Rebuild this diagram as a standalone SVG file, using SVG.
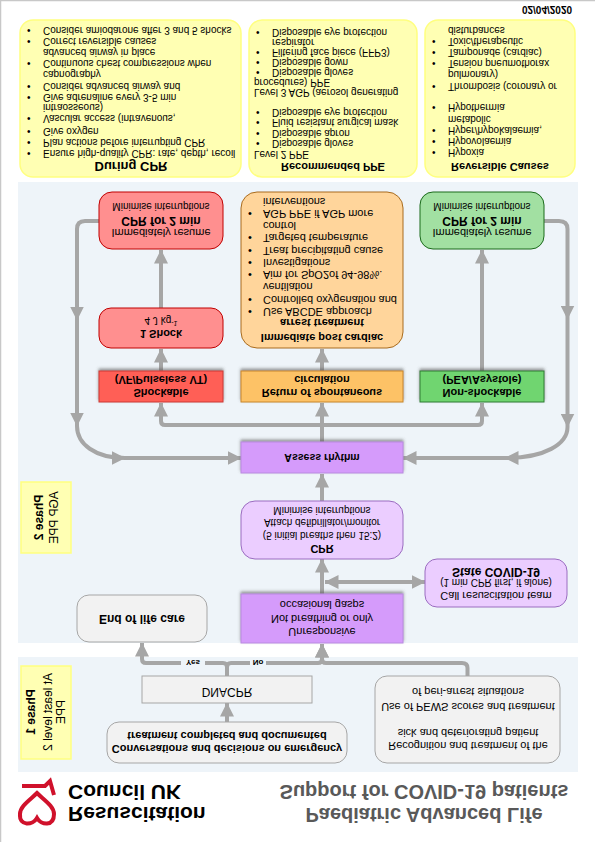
<svg xmlns="http://www.w3.org/2000/svg" width="595" height="842" viewBox="0 0 595 842">
<style>
text{font-family:"Liberation Sans",Arial,sans-serif;font-size:10px;fill:#000}
.c{text-anchor:middle}
.b{font-weight:bold}
.s11{font-size:11px}
.s12{font-size:12px}
.s13{font-size:13px}
.panel{fill:#eef4f9}
.note{fill:#ffffb3;stroke:#ffff80;stroke-width:1.5}
.gray{fill:#f2f2f2;stroke:#a6a6a6}
.pur{fill:#d59bfb;stroke:#b98ae0;filter:url(#sh)}
.lil{fill:#ebcdff;stroke:#9a6cc0}
.red{fill:#ff8f8f;stroke:#c00000}
.lines path{fill:none;stroke:#a6a6a6;stroke-width:4;marker-end:url(#ah)}
</style>
<defs>
<marker id="ah" markerUnits="userSpaceOnUse" viewBox="0 0 14 14" refX="13.5" refY="7" markerWidth="14" markerHeight="14" orient="auto-start-reverse"><path d="M0 0L14 7L0 14Z" fill="#a6a6a6"/></marker>
<filter id="sh" x="-10%" y="-30%" width="120%" height="170%"><feDropShadow dx="0" dy="2" stdDeviation="1.5" flood-color="#555" flood-opacity=".6"/></filter>
</defs>
<rect width="595" height="842" fill="#fff"/>
<path d="M0.5 842V0.5H595" fill="none" stroke="#c8c8c8" stroke-width="1.5"/>
<g transform="matrix(1 0 0 -1 0 842)">
<rect class="panel" x="18" y="70" width="560" height="115"/>
<rect class="panel" x="18" y="199" width="560" height="461"/>

<g id="logo" fill="none" stroke="#d0112b" stroke-width="4">
<path d="M37 24C33 17 19 15 20 28C20 36 30 42 37 49C44 42 54 36 54 28C54 15 41 17 37 24Z"/>
<path d="M22 56H45L50 61L54 47"/>
<text x="68" y="35" class="b" style="font-size:21px;stroke:none">Resuscitation</text>
<text x="68" y="57" class="b" style="font-size:21px;stroke:none">Council UK</text>
</g>
<g id="title">
<text x="424" y="34" class="b c" style="font-size:20px;fill:#595959">Paediatric Advanced Life</text>
<text x="424" y="57" class="b c" style="font-size:20px;fill:#595959">Support for COVID-19 patients</text>
</g>
<text id="date" x="547" y="835.6" class="b c">02/04/2020</text>

<g id="connectors" class="lines">
<path d="M227 120V139"/>
<path d="M227 166V175Q227 179 223 179H146Q142 179 142 183V199"/>
<path d="M227 166V175Q227 179 231 179H318Q322 179 322 183V198"/>
<path d="M467.5 166V174Q467.5 179 462 179H326Q322 179 322 183V198"/>
<path d="M322 248V283"/>
<path style="marker-start:url(#ah)" d="M325 260H425"/>
<path d="M322 341V368"/>
<path d="M322 400V439"/>
<path d="M322 417H165Q161 417 161 421V439"/>
<path d="M322 417H478Q482 417 482 421V439"/>
<path d="M322 471V493"/>
<path d="M161 471V493"/>
<path d="M161 534V592"/>
<path d="M482 471V592"/>
<path d="M99 621H85Q77 621 77 613V522"/>
<path d="M77 522V416"/>
<path d="M77 416C77 398 95 384 125 384"/>
<path d="M125 384H241"/>
<path d="M544 621H559Q567.5 621 567.5 613V523"/>
<path d="M567.5 523V415"/>
<path d="M567.5 415C567.5 398 545 384 505 384"/>
<path d="M505 384H403"/>
<rect x="181" y="174.5" width="24" height="9" fill="#eef4f9"/>
<rect x="250" y="174.5" width="16" height="9" fill="#eef4f9"/>
<text x="193" y="182.5" class="b c" style="font-size:8px">Yes</text>
<text x="258" y="182.5" class="b c" style="font-size:8px">No</text>
</g>

<g id="during-cpr">
<rect class="note" x="20" y="665" width="221" height="157" rx="13"/>
<text x="131" y="679.6" class="b c s13">During CPR</text>
<text x="27" y="691.6">•</text><text x="43" y="691.6">Ensure high-quality CPR: rate, depth, recoil</text>
<text x="27" y="702.6">•</text><text x="43" y="702.6">Plan actions before interrupting CPR</text>
<text x="27" y="713.6">•</text><text x="43" y="713.6">Give oxygen</text>
<text x="27" y="726.6">•</text><text x="43" y="726.6">Vascular access (intravenous,</text>
<text x="43" y="737.6">intraosseous)</text>
<text x="27" y="747.6">•</text><text x="43" y="747.6">Give adrenaline every 3-5 min</text>
<text x="27" y="758.6">•</text><text x="43" y="758.6">Consider advanced airway and</text>
<text x="43" y="770.6">capnography</text>
<text x="27" y="781.6">•</text><text x="43" y="781.6">Continuous chest compressions when</text>
<text x="43" y="792.6">advanced airway in place</text>
<text x="27" y="803.6">•</text><text x="43" y="803.6">Correct reversible causes</text>
<text x="27" y="814.6">•</text><text x="43" y="814.6">Consider amiodarone after 3 and 5 shocks</text>
</g>
<g id="recommended-ppe">
<rect class="note" x="249" y="665" width="168" height="157" rx="13"/>
<text x="333" y="679" class="b c s11">Recommended PPE</text>
<text x="254" y="690.6">Level 2 PPE</text>
<text x="256" y="701.6">•</text><text x="272" y="701.6">Disposable gloves</text>
<text x="256" y="711.6">•</text><text x="272" y="711.6">Disposable apron</text>
<text x="256" y="722.6">•</text><text x="272" y="722.6">Fluid resistant surgical mask</text>
<text x="256" y="732.6">•</text><text x="272" y="732.6">Disposable eye protection</text>
<text x="254" y="752.6">Level 3 AGP (aerosol generating</text>
<text x="254" y="762.6">procedures) PPE</text>
<text x="256" y="772.6">•</text><text x="272" y="772.6">Disposable gloves</text>
<text x="256" y="782.6">•</text><text x="272" y="782.6">Disposable gown</text>
<text x="256" y="792.6">•</text><text x="272" y="792.6">Filtering face piece (FFP3)</text>
<text x="272" y="802.6">respirator</text>
<text x="256" y="812.6">•</text><text x="272" y="812.6">Disposable eye protection</text>
</g>
<g id="reversible-causes">
<rect class="note" x="425" y="665" width="150" height="157" rx="13"/>
<text x="500" y="679" class="b c s11">Reversible Causes</text>
<text x="432" y="692.6">•</text><text x="448" y="692.6">Hypoxia</text>
<text x="432" y="703.6">•</text><text x="448" y="703.6">Hypovolaemia</text>
<text x="432" y="714.6">•</text><text x="448" y="714.6">Hyper/hypokalaemia,</text>
<text x="448" y="725.6">metabolic</text>
<text x="432" y="737.6">•</text><text x="448" y="737.6">Hypothermia</text>
<text x="432" y="758.6">•</text><text x="448" y="758.6">Thrombosis (coronary or</text>
<text x="448" y="770.6">pulmonary)</text>
<text x="432" y="781.6">•</text><text x="448" y="781.6">Tension pneumothorax</text>
<text x="432" y="792.6">•</text><text x="448" y="792.6">Tamponade (cardiac)</text>
<text x="432" y="803.6">•</text><text x="448" y="803.6">Toxic/therapeutic</text>
<text x="448" y="814.6">disturbances</text>
</g>

<g id="phase-2">
<rect class="note" x="21" y="289" width="50" height="71"/>
<text transform="translate(43 324.5) rotate(-90)" class="b c s12">Phase 2</text>
<text transform="translate(58 324.5) rotate(-90)" class="c s12">AGP PPE</text>
</g>
<g id="phase-1">
<rect class="note" x="21" y="83" width="50" height="93"/>
<text transform="translate(35 130) rotate(-90)" class="b c s12">Phase 1</text>
<text transform="translate(52 130) rotate(-90)" class="c s12">At least level 2</text>
<text transform="translate(65 130) rotate(-90)" class="c s12">PPE</text>
</g>

<g id="conversations">
<rect class="gray" x="107" y="79" width="240" height="41" rx="12"/>
<text x="227" y="97" class="b c s11">Conversations and decisions on emergency</text>
<text x="227" y="110" class="b c s11">treatment completed and documented</text>
</g>
<g id="recognition">
<rect class="gray" x="375" y="79" width="185" height="87" rx="12"/>
<text x="468" y="100" class="c s11">Recognition and treatment of the</text>
<text x="468" y="113" class="c s11">sick and deteriorating patient</text>
<text x="468" y="139" class="c s11">Use of PEWS scores and treatment</text>
<text x="468" y="154" class="c s11">of peri-arrest situations</text>
</g>
<g id="dnacpr">
<rect class="gray" x="142" y="139" width="170" height="27"/>
<text x="227" y="154" class="c s12">DNACPR</text>
</g>
<g id="end-of-life">
<rect class="gray" x="77" y="200" width="130" height="47" rx="12"/>
<text x="142" y="227.5" class="b c s12">End of life care</text>
</g>
<g id="unresponsive">
<rect class="pur" x="241" y="199" width="162" height="49"/>
<text x="322" y="214" class="c s11">Unresponsive</text>
<text x="322" y="227" class="c s11">Not breathing or only</text>
<text x="322" y="241" class="c s11">occasional gasps</text>
</g>
<g id="call-team">
<rect class="lil" x="425" y="235" width="142" height="48" rx="12"/>
<text x="496" y="250" class="c s11">Call resuscitation team</text>
<text x="496" y="262.6" class="c">(1 min CPR first, if alone)</text>
<text x="496" y="274.3" class="b c s12">State COVID-19</text>
</g>
<g id="cpr">
<rect class="lil" x="241" y="283" width="162" height="58" rx="14"/>
<text x="322" y="297" class="b c s11">CPR</text>
<text x="322" y="309.6" class="c">(5 initial breaths then 15:2)</text>
<text x="322" y="322.6" class="c">Attach defibrillator/monitor</text>
<text x="322" y="334.6" class="c">Minimise interruptions</text>
</g>
<g id="assess">
<rect class="pur" x="241" y="369" width="162" height="31"/>
<text x="322" y="388" class="b c" style="font-size:10.5px">Assess rhythm</text>
</g>
<g id="shockable">
<rect x="99" y="440" width="124" height="31" fill="#ff5f57" stroke="#cc3a33" style="filter:url(#sh)"/>
<text x="161" y="453" class="b c s11">Shockable</text>
<text x="161" y="466" class="b c s11">(VF/Pulseless VT)</text>
</g>
<g id="return">
<rect x="241" y="440" width="162" height="31" fill="#fdc266" stroke="#c8862a" style="filter:url(#sh)"/>
<text x="322" y="453" class="b c s11">Return of spontaneous</text>
<text x="322" y="466" class="b c s11">circulation</text>
</g>
<g id="non-shockable">
<rect x="420" y="440" width="124" height="31" fill="#70d570" stroke="#2e7d32" style="filter:url(#sh)"/>
<text x="482" y="453" class="b c s11">Non-shockable</text>
<text x="482" y="466" class="b c s11">(PEA/Asystole)</text>
</g>
<g id="shock">
<rect class="red" x="99" y="494" width="124" height="40" rx="12"/>
<text x="161" y="512" class="b c s11">1 Shock</text>
<text x="161" y="525" class="c">4 J kg<tspan dy="-4" font-size="7">-1</tspan></text>
</g>
<g id="cpr-red">
<rect class="red" x="99" y="593" width="124" height="57" rx="13"/>
<text x="161" y="613" class="c s11">Immediately resume</text>
<text x="161" y="625.3" class="b c s12">CPR for 2 min</text>
<text x="161" y="638.6" class="c">Minimise interruptions</text>
</g>
<g id="cpr-green">
<rect x="420" y="593" width="124" height="57" rx="13" fill="#a2e0a2" stroke="#1b6b1b"/>
<text x="482" y="613" class="c s11">Immediately resume</text>
<text x="482" y="625.3" class="b c s12">CPR for 2 min</text>
<text x="482" y="638.6" class="c">Minimise interruptions</text>
</g>
<g id="post-arrest">
<rect x="241" y="494" width="162" height="156" rx="16" fill="#ffd59b" stroke="#a86b1e"/>
<text x="322" y="508" class="b c s11">Immediate post cardiac</text>
<text x="322" y="523" class="b c s11">arrest treatment</text>
<text x="248" y="534" class="s11">•</text><text x="263" y="534" class="s11">Use ABCDE approach</text>
<text x="248" y="546" class="s11">•</text><text x="263" y="546" class="s11">Controlled oxygenation and</text>
<text x="263" y="559" class="s11">ventilation</text>
<text x="248" y="571" class="s11">•</text><text x="263" y="571" class="s11">Aim for SpO2of 94-98%.</text>
<text x="248" y="583" class="s11">•</text><text x="263" y="583" class="s11">Investigations</text>
<text x="248" y="595" class="s11">•</text><text x="263" y="595" class="s11">Treat precipitating cause</text>
<text x="248" y="608" class="s11">•</text><text x="263" y="608" class="s11">Targeted temperature</text>
<text x="263" y="620" class="s11">control</text>
<text x="248" y="632" class="s11">•</text><text x="263" y="632" class="s11">AGP PPE if AGP more</text>
<text x="263" y="644" class="s11">interventions</text>
</g>
</g>
</svg>
